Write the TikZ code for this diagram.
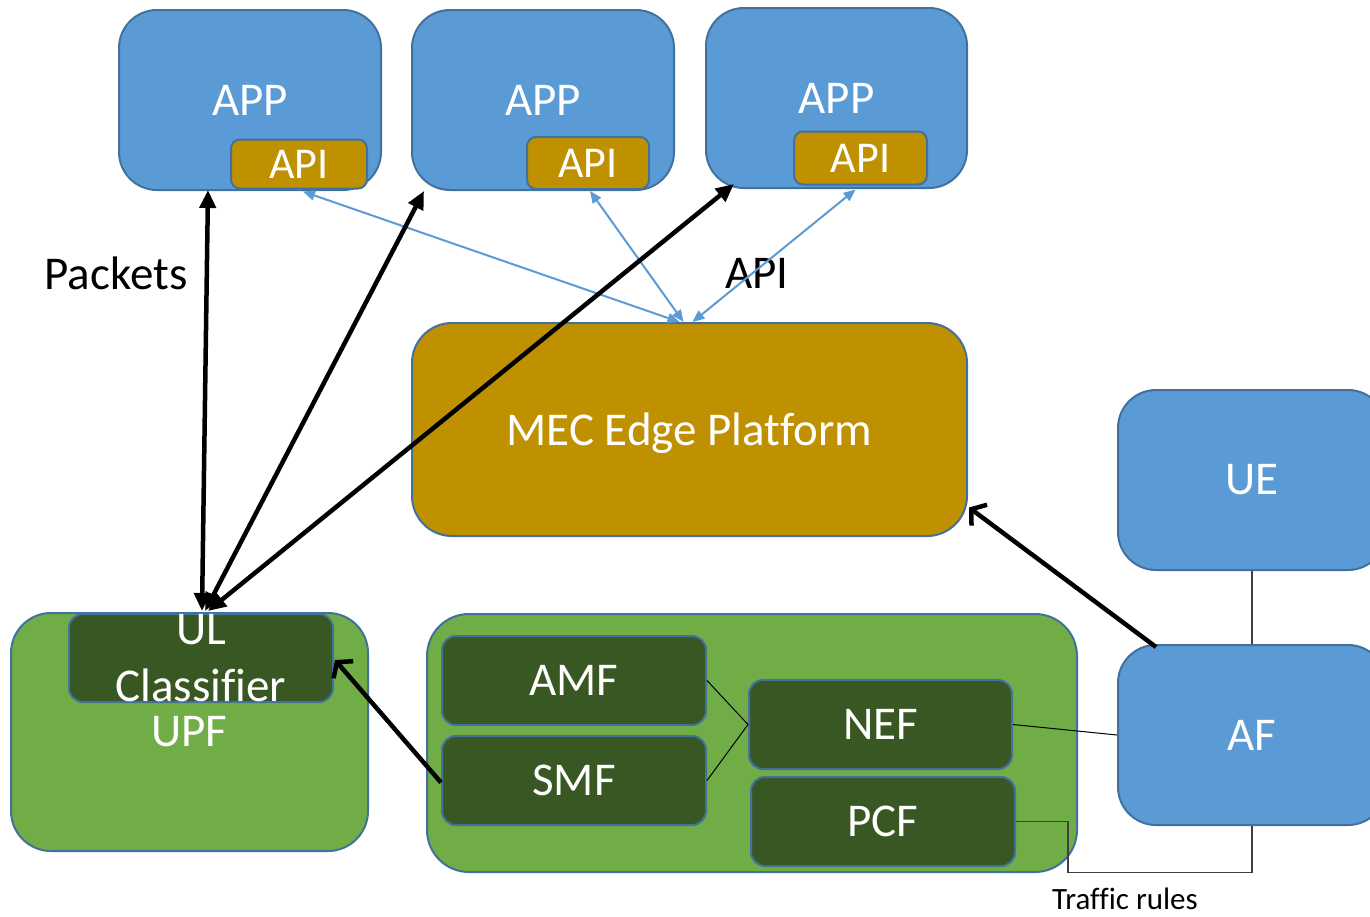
\documentclass[tikz,border=0pt]{standalone}
\usepackage{fontspec}
\setmainfont[Ligatures=NoCommon]{Carlito}
\usetikzlibrary{arrows.meta,calc}
\definecolor{blu}{HTML}{5B9BD5}
\definecolor{bord}{HTML}{41719C}
\definecolor{gold}{HTML}{BF9000}
\definecolor{lgreen}{HTML}{70AD47}
\definecolor{dgreen}{HTML}{385723}
\definecolor{lgray}{HTML}{404040}
\begin{document}
\begin{tikzpicture}[x=1pt,y=-1pt,
  box/.style={draw=bord, line width=2pt, inner sep=0pt, text=white,
    font=\fontsize{47}{57}\selectfont, align=center},
  bigbox/.style={box, rounded corners=38pt},
  smallbox/.style={box, rounded corners=14pt},
  bluebox/.style={bigbox, fill=blu},
  apibox/.style={smallbox, fill=gold, rounded corners=9pt, font=\fontsize{44}{50}\selectfont},
  nfbox/.style={smallbox, fill=dgreen, minimum width=264pt, minimum height=89pt},
  lbl/.style={font=\fontsize{47}{50}\selectfont, text=black, inner sep=0pt},
  thinline/.style={draw=black, line width=1pt},
  grayline/.style={draw=lgray, line width=1.2pt},
  blk/.style={draw=black, line width=4.5pt},
  blkhead/.style={{Triangle[length=18pt,width=16pt]}-{Triangle[length=18pt,width=16pt]}},
  barb/.style={-{Straight Barb[length=10pt,width=26pt,line width=4.5pt]}},
  bluarrow/.style={draw=blu, line width=2pt, {Triangle[length=12pt,width=10pt]}-{Triangle[length=12pt,width=10pt]}}
]
\useasboundingbox (0,0) rectangle (1370,916);

% APP boxes
\node[bluebox, minimum width=262pt, minimum height=180pt] (app1) at (250,100) {APP};
\node[bluebox, minimum width=262pt, minimum height=180pt] (app2) at (543,100) {APP};
\node[bluebox, minimum width=261pt, minimum height=180pt] (app3) at (836.5,98) {APP};
\node[apibox, minimum width=136pt, minimum height=49pt] (api1) at (299,164) {API};
\node[apibox, minimum width=122pt, minimum height=52pt] (api2) at (588,163) {API};
\node[apibox, minimum width=133pt, minimum height=53pt] (api3) at (860.5,158) {API};

% MEC
\node[bigbox, fill=gold, rounded corners=40pt, minimum width=555pt, minimum height=213pt, text depth=0pt] (mec) at (689.5,429.5) {MEC Edge Platform};

% UE and AF
\node[bluebox, minimum width=268pt, minimum height=180pt] (ue) at (1252,480) {UE};
\node[bluebox, minimum width=268pt, minimum height=180pt] (af) at (1252,735) {AF};

% UPF
\node[bigbox, fill=lgreen, rounded corners=40pt, minimum width=357pt, minimum height=238pt] (upf) at (189.5,732) {UPF};
\node[smallbox, fill=dgreen, minimum width=264pt, minimum height=88pt] (ul) at (201,658) {UL\\Classifier};

% Core
\node[bigbox, fill=lgreen, rounded corners=42pt, minimum width=650pt, minimum height=258pt] (core) at (752,743) {};
\node[nfbox] (amf) at (574,680.5) {AMF};
\node[nfbox] (smf) at (574,780.5) {SMF};
\node[nfbox, minimum width=263pt] (nef) at (880.5,724.5) {NEF};
\node[nfbox] (pcf) at (883,821.5) {PCF};

% labels
\node[lbl] (packets) at (116,273) {Packets};
\node[lbl] (apilbl) at (757,273) {API};
\node[lbl, font=\fontsize{31}{34}\selectfont] (traffic) at (1125,899) {Traffic rules};

% thin connectors
\draw[thinline] (amf.east) -- (nef.west);
\draw[thinline] (smf.east) -- (nef.west);
\draw[thinline] (nef.east) -- (af.west);
\draw[grayline] (ue.south) -- (af.north);
\draw[grayline] (pcf.east) -- ++(52,0) -- ++(0,51) -| (af.south);

% blue API arrows
\draw[bluarrow] ($(api1.south)+(4,2)$) -- ($(mec.north)+(-10,0)$);
\draw[bluarrow] ($(api2.south)+(2,1)$) -- ($(mec.north)+(-6,0)$);
\draw[bluarrow] ($(api3.south)+(-5,4)$) -- ($(mec.north)+(3,0)$);

% black packet arrows
\draw[blk, blkhead] ($(app1.south)+(-42,-1)$) -- ($(ul.north)+(1,-2)$);
\draw[blk, blkhead] ($(app2.south west)+(13,0)$) -- ($(ul.north)+(4,-2)$);
\draw[blk, blkhead] ($(app3.south west)+(29,-5)$) -- ($(ul.north)+(7,-2)$);

% open arrows
\draw[blk, barb] ($(af.north west)+(39,3)$) -- ($(mec.east)+(1,78)$);
\draw[blk, barb] ($(smf.west)+(0,2)$) -- ($(ul.east)+(1,2)$);
\end{tikzpicture}
\end{document}
